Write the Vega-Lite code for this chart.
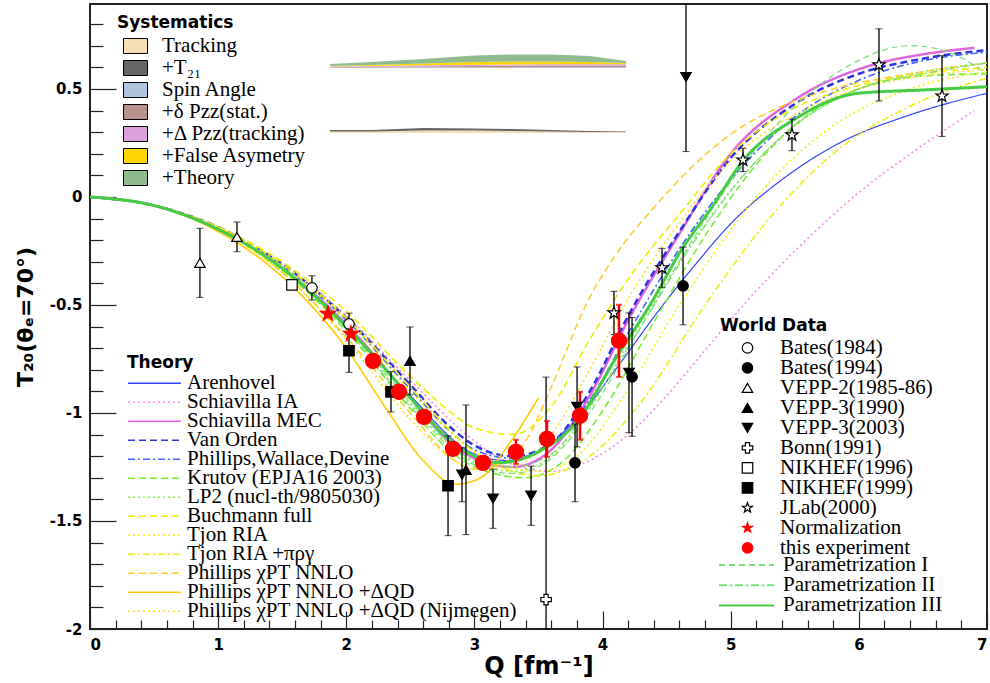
{
"$schema": "https://vega.github.io/schema/vega-lite/v6.json",
"width": 897, "height": 625,
"autosize": {"type": "none"},
"padding": {"left": 90, "top": 4, "right": 3, "bottom": 54},
"background": "white",
"config": {
  "view": {"stroke": "#222222", "strokeWidth": 2},
  "axis": {"grid": false, "domain": false, "tickColor": "#222222", "tickWidth": 1.2, "labelColor": "black", "titleColor": "black", "labelFont": "DejaVu Sans", "labelFontWeight": "bold", "labelFontSize": 15, "titleFont": "DejaVu Sans", "titleFontWeight": "bold", "titleFontSize": 24},
  "legend": {"orient": "none", "labelFont": "Liberation Serif", "labelFontSize": 21, "labelColor": "black", "labelLimit": 0, "titleFont": "DejaVu Sans", "titleFontSize": 17, "titleFontWeight": "bold", "titleColor": "black"}
},
"datasets": {
"sys": [
{"sys":"Spin Angle","Q":1.873,"lo":0.597,"hi":0.5993},{"sys":"Spin Angle","Q":2.2,"lo":0.597,"hi":0.5993},{"sys":"Spin Angle","Q":2.6,"lo":0.597,"hi":0.5998},{"sys":"Spin Angle","Q":3.0,"lo":0.597,"hi":0.6002},{"sys":"Spin Angle","Q":3.3,"lo":0.597,"hi":0.6002},{"sys":"Spin Angle","Q":3.6,"lo":0.597,"hi":0.6002},{"sys":"Spin Angle","Q":3.9,"lo":0.597,"hi":0.6002},{"sys":"Spin Angle","Q":4.183,"lo":0.597,"hi":0.6002},
{"sys":"+δ Pzz(stat.)","Q":1.873,"lo":0.5993,"hi":0.6016},{"sys":"+δ Pzz(stat.)","Q":2.2,"lo":0.5993,"hi":0.6026},{"sys":"+δ Pzz(stat.)","Q":2.6,"lo":0.5998,"hi":0.6039},{"sys":"+δ Pzz(stat.)","Q":3.0,"lo":0.6002,"hi":0.6063},{"sys":"+δ Pzz(stat.)","Q":3.3,"lo":0.6002,"hi":0.6072},{"sys":"+δ Pzz(stat.)","Q":3.6,"lo":0.6002,"hi":0.6076},{"sys":"+δ Pzz(stat.)","Q":3.9,"lo":0.6002,"hi":0.6076},{"sys":"+δ Pzz(stat.)","Q":4.183,"lo":0.6002,"hi":0.6076},
{"sys":"+Δ Pzz(tracking)","Q":1.873,"lo":0.6016,"hi":0.6039},{"sys":"+Δ Pzz(tracking)","Q":2.2,"lo":0.6026,"hi":0.6063},{"sys":"+Δ Pzz(tracking)","Q":2.6,"lo":0.6039,"hi":0.609},{"sys":"+Δ Pzz(tracking)","Q":3.0,"lo":0.6063,"hi":0.6118},{"sys":"+Δ Pzz(tracking)","Q":3.3,"lo":0.6072,"hi":0.6132},{"sys":"+Δ Pzz(tracking)","Q":3.6,"lo":0.6076,"hi":0.6137},{"sys":"+Δ Pzz(tracking)","Q":3.9,"lo":0.6076,"hi":0.6137},{"sys":"+Δ Pzz(tracking)","Q":4.183,"lo":0.6076,"hi":0.6137},
{"sys":"+False Asymetry","Q":1.873,"lo":0.6039,"hi":0.6063},{"sys":"+False Asymetry","Q":2.2,"lo":0.6063,"hi":0.6109},{"sys":"+False Asymetry","Q":2.6,"lo":0.609,"hi":0.6178},{"sys":"+False Asymetry","Q":3.0,"lo":0.6118,"hi":0.6248},{"sys":"+False Asymetry","Q":3.3,"lo":0.6132,"hi":0.6271},{"sys":"+False Asymetry","Q":3.6,"lo":0.6137,"hi":0.6271},{"sys":"+False Asymetry","Q":3.9,"lo":0.6137,"hi":0.6248},{"sys":"+False Asymetry","Q":4.183,"lo":0.6137,"hi":0.6201},
{"sys":"+Theory","Q":1.873,"lo":0.6063,"hi":0.6155},{"sys":"+Theory","Q":2.2,"lo":0.6109,"hi":0.6248},{"sys":"+Theory","Q":2.6,"lo":0.6178,"hi":0.6387},{"sys":"+Theory","Q":3.0,"lo":0.6248,"hi":0.6549},{"sys":"+Theory","Q":3.3,"lo":0.6271,"hi":0.6595},{"sys":"+Theory","Q":3.6,"lo":0.6271,"hi":0.6595},{"sys":"+Theory","Q":3.9,"lo":0.6248,"hi":0.6526},{"sys":"+Theory","Q":4.183,"lo":0.6201,"hi":0.6294},
{"sys":"Tracking","Q":1.873,"lo":0.296,"hi":0.3029},{"sys":"Tracking","Q":2.2,"lo":0.296,"hi":0.3029},{"sys":"Tracking","Q":2.6,"lo":0.296,"hi":0.3076},{"sys":"Tracking","Q":3.0,"lo":0.296,"hi":0.3076},{"sys":"Tracking","Q":3.3,"lo":0.296,"hi":0.3053},{"sys":"Tracking","Q":3.6,"lo":0.296,"hi":0.3029},{"sys":"Tracking","Q":3.9,"lo":0.296,"hi":0.3006},{"sys":"Tracking","Q":4.183,"lo":0.296,"hi":0.3006},
{"sys":"+T₂₁","Q":1.873,"lo":0.3029,"hi":0.3099},{"sys":"+T₂₁","Q":2.2,"lo":0.3029,"hi":0.3099},{"sys":"+T₂₁","Q":2.6,"lo":0.3076,"hi":0.3191},{"sys":"+T₂₁","Q":3.0,"lo":0.3076,"hi":0.3168},{"sys":"+T₂₁","Q":3.3,"lo":0.3053,"hi":0.3145},{"sys":"+T₂₁","Q":3.6,"lo":0.3029,"hi":0.3099},{"sys":"+T₂₁","Q":3.9,"lo":0.3006,"hi":0.3053},{"sys":"+T₂₁","Q":4.183,"lo":0.3006,"hi":0.3029}
],
"theory": [
{"model":"Arenhovel","Q":0,"T":0},{"model":"Arenhovel","Q":0.5,"T":-0.04},{"model":"Arenhovel","Q":1,"T":-0.15},{"model":"Arenhovel","Q":1.5,"T":-0.33},{"model":"Arenhovel","Q":2,"T":-0.59},{"model":"Arenhovel","Q":2.5,"T":-0.92},{"model":"Arenhovel","Q":3,"T":-1.19},{"model":"Arenhovel","Q":3.25,"T":-1.22},{"model":"Arenhovel","Q":3.5,"T":-1.18},{"model":"Arenhovel","Q":3.8,"T":-1.03},{"model":"Arenhovel","Q":4.1,"T":-0.8},{"model":"Arenhovel","Q":4.42,"T":-0.54},{"model":"Arenhovel","Q":4.7,"T":-0.33},{"model":"Arenhovel","Q":5.04,"T":-0.1},{"model":"Arenhovel","Q":5.4,"T":0.08},{"model":"Arenhovel","Q":5.85,"T":0.25},{"model":"Arenhovel","Q":6.4,"T":0.38},{"model":"Arenhovel","Q":7,"T":0.48},
{"model":"Schiavilla IA","Q":0,"T":0},{"model":"Schiavilla IA","Q":0.5,"T":-0.04},{"model":"Schiavilla IA","Q":1,"T":-0.14},{"model":"Schiavilla IA","Q":1.5,"T":-0.31},{"model":"Schiavilla IA","Q":2,"T":-0.55},{"model":"Schiavilla IA","Q":2.5,"T":-0.85},{"model":"Schiavilla IA","Q":3,"T":-1.13},{"model":"Schiavilla IA","Q":3.3,"T":-1.24},{"model":"Schiavilla IA","Q":3.6,"T":-1.27},{"model":"Schiavilla IA","Q":3.9,"T":-1.22},{"model":"Schiavilla IA","Q":4.2,"T":-1.1},{"model":"Schiavilla IA","Q":4.5,"T":-0.92},{"model":"Schiavilla IA","Q":4.8,"T":-0.71},{"model":"Schiavilla IA","Q":5.1,"T":-0.5},{"model":"Schiavilla IA","Q":5.5,"T":-0.25},{"model":"Schiavilla IA","Q":6,"T":0.02},{"model":"Schiavilla IA","Q":6.5,"T":0.24},{"model":"Schiavilla IA","Q":6.9,"T":0.4},
{"model":"Schiavilla MEC","Q":0,"T":0},{"model":"Schiavilla MEC","Q":0.5,"T":-0.04},{"model":"Schiavilla MEC","Q":1,"T":-0.15},{"model":"Schiavilla MEC","Q":1.5,"T":-0.33},{"model":"Schiavilla MEC","Q":2,"T":-0.59},{"model":"Schiavilla MEC","Q":2.5,"T":-0.93},{"model":"Schiavilla MEC","Q":2.8,"T":-1.13},{"model":"Schiavilla MEC","Q":3,"T":-1.21},{"model":"Schiavilla MEC","Q":3.3,"T":-1.25},{"model":"Schiavilla MEC","Q":3.6,"T":-1.17},{"model":"Schiavilla MEC","Q":3.9,"T":-0.92},{"model":"Schiavilla MEC","Q":4.2,"T":-0.57},{"model":"Schiavilla MEC","Q":4.6,"T":-0.17},{"model":"Schiavilla MEC","Q":5,"T":0.2},{"model":"Schiavilla MEC","Q":5.5,"T":0.45},{"model":"Schiavilla MEC","Q":6.1,"T":0.61},{"model":"Schiavilla MEC","Q":6.5,"T":0.66},{"model":"Schiavilla MEC","Q":6.9,"T":0.69},
{"model":"Van Orden","Q":0,"T":0},{"model":"Van Orden","Q":0.5,"T":-0.04},{"model":"Van Orden","Q":1,"T":-0.14},{"model":"Van Orden","Q":1.5,"T":-0.31},{"model":"Van Orden","Q":2,"T":-0.56},{"model":"Van Orden","Q":2.5,"T":-0.87},{"model":"Van Orden","Q":2.8,"T":-1.06},{"model":"Van Orden","Q":3,"T":-1.15},{"model":"Van Orden","Q":3.3,"T":-1.2},{"model":"Van Orden","Q":3.6,"T":-1.14},{"model":"Van Orden","Q":3.9,"T":-0.9},{"model":"Van Orden","Q":4.2,"T":-0.55},{"model":"Van Orden","Q":4.6,"T":-0.16},{"model":"Van Orden","Q":5,"T":0.18},{"model":"Van Orden","Q":5.5,"T":0.43},{"model":"Van Orden","Q":6,"T":0.57},{"model":"Van Orden","Q":6.5,"T":0.64},{"model":"Van Orden","Q":7,"T":0.68},
{"model":"Phillips,Wallace,Devine","Q":0,"T":0},{"model":"Phillips,Wallace,Devine","Q":0.5,"T":-0.04},{"model":"Phillips,Wallace,Devine","Q":1,"T":-0.14},{"model":"Phillips,Wallace,Devine","Q":1.5,"T":-0.32},{"model":"Phillips,Wallace,Devine","Q":2,"T":-0.57},{"model":"Phillips,Wallace,Devine","Q":2.5,"T":-0.89},{"model":"Phillips,Wallace,Devine","Q":2.8,"T":-1.08},{"model":"Phillips,Wallace,Devine","Q":3,"T":-1.17},{"model":"Phillips,Wallace,Devine","Q":3.3,"T":-1.21},{"model":"Phillips,Wallace,Devine","Q":3.6,"T":-1.14},{"model":"Phillips,Wallace,Devine","Q":3.9,"T":-0.94},{"model":"Phillips,Wallace,Devine","Q":4.2,"T":-0.63},{"model":"Phillips,Wallace,Devine","Q":4.6,"T":-0.24},{"model":"Phillips,Wallace,Devine","Q":5,"T":0.08},{"model":"Phillips,Wallace,Devine","Q":5.5,"T":0.37},{"model":"Phillips,Wallace,Devine","Q":6,"T":0.54},{"model":"Phillips,Wallace,Devine","Q":6.5,"T":0.63},{"model":"Phillips,Wallace,Devine","Q":7,"T":0.67},
{"model":"Krutov (EPJA16 2003)","Q":0,"T":0},{"model":"Krutov (EPJA16 2003)","Q":0.5,"T":-0.04},{"model":"Krutov (EPJA16 2003)","Q":1,"T":-0.15},{"model":"Krutov (EPJA16 2003)","Q":1.5,"T":-0.34},{"model":"Krutov (EPJA16 2003)","Q":2,"T":-0.62},{"model":"Krutov (EPJA16 2003)","Q":2.5,"T":-0.98},{"model":"Krutov (EPJA16 2003)","Q":2.8,"T":-1.17},{"model":"Krutov (EPJA16 2003)","Q":3,"T":-1.25},{"model":"Krutov (EPJA16 2003)","Q":3.4,"T":-1.3},{"model":"Krutov (EPJA16 2003)","Q":3.7,"T":-1.22},{"model":"Krutov (EPJA16 2003)","Q":4,"T":-0.99},{"model":"Krutov (EPJA16 2003)","Q":4.4,"T":-0.58},{"model":"Krutov (EPJA16 2003)","Q":4.8,"T":-0.18},{"model":"Krutov (EPJA16 2003)","Q":5.2,"T":0.15},{"model":"Krutov (EPJA16 2003)","Q":5.6,"T":0.38},{"model":"Krutov (EPJA16 2003)","Q":6,"T":0.5},{"model":"Krutov (EPJA16 2003)","Q":6.5,"T":0.56},{"model":"Krutov (EPJA16 2003)","Q":7,"T":0.57},
{"model":"LP2 (nucl-th/9805030)","Q":0,"T":0},{"model":"LP2 (nucl-th/9805030)","Q":0.5,"T":-0.04},{"model":"LP2 (nucl-th/9805030)","Q":1,"T":-0.15},{"model":"LP2 (nucl-th/9805030)","Q":1.5,"T":-0.34},{"model":"LP2 (nucl-th/9805030)","Q":2,"T":-0.61},{"model":"LP2 (nucl-th/9805030)","Q":2.5,"T":-0.96},{"model":"LP2 (nucl-th/9805030)","Q":3,"T":-1.23},{"model":"LP2 (nucl-th/9805030)","Q":3.3,"T":-1.27},{"model":"LP2 (nucl-th/9805030)","Q":3.6,"T":-1.2},{"model":"LP2 (nucl-th/9805030)","Q":3.9,"T":-0.98},{"model":"LP2 (nucl-th/9805030)","Q":4.2,"T":-0.68},{"model":"LP2 (nucl-th/9805030)","Q":4.6,"T":-0.3},{"model":"LP2 (nucl-th/9805030)","Q":5,"T":0.03},{"model":"LP2 (nucl-th/9805030)","Q":5.5,"T":0.33},{"model":"LP2 (nucl-th/9805030)","Q":6,"T":0.5},{"model":"LP2 (nucl-th/9805030)","Q":6.5,"T":0.58},{"model":"LP2 (nucl-th/9805030)","Q":7,"T":0.62},
{"model":"Buchmann full","Q":0,"T":0},{"model":"Buchmann full","Q":0.5,"T":-0.04},{"model":"Buchmann full","Q":1,"T":-0.14},{"model":"Buchmann full","Q":1.5,"T":-0.3},{"model":"Buchmann full","Q":2,"T":-0.53},{"model":"Buchmann full","Q":2.5,"T":-0.83},{"model":"Buchmann full","Q":2.8,"T":-0.99},{"model":"Buchmann full","Q":3,"T":-1.07},{"model":"Buchmann full","Q":3.3,"T":-1.1},{"model":"Buchmann full","Q":3.6,"T":-0.97},{"model":"Buchmann full","Q":3.9,"T":-0.66},{"model":"Buchmann full","Q":4.2,"T":-0.38},{"model":"Buchmann full","Q":4.6,"T":-0.08},{"model":"Buchmann full","Q":5,"T":0.2},{"model":"Buchmann full","Q":5.4,"T":0.38},{"model":"Buchmann full","Q":5.9,"T":0.5},{"model":"Buchmann full","Q":6.5,"T":0.57},{"model":"Buchmann full","Q":7,"T":0.6},
{"model":"Tjon RIA","Q":0,"T":0},{"model":"Tjon RIA","Q":0.5,"T":-0.04},{"model":"Tjon RIA","Q":1,"T":-0.14},{"model":"Tjon RIA","Q":1.5,"T":-0.32},{"model":"Tjon RIA","Q":2,"T":-0.57},{"model":"Tjon RIA","Q":2.5,"T":-0.9},{"model":"Tjon RIA","Q":3,"T":-1.18},{"model":"Tjon RIA","Q":3.5,"T":-1.27},{"model":"Tjon RIA","Q":3.8,"T":-1.2},{"model":"Tjon RIA","Q":4.1,"T":-0.98},{"model":"Tjon RIA","Q":4.6,"T":-0.5},{"model":"Tjon RIA","Q":5.2,"T":0},{"model":"Tjon RIA","Q":5.8,"T":0.33},{"model":"Tjon RIA","Q":6.4,"T":0.5},{"model":"Tjon RIA","Q":7,"T":0.58},
{"model":"Tjon RIA +πργ","Q":0,"T":0},{"model":"Tjon RIA +πργ","Q":0.5,"T":-0.04},{"model":"Tjon RIA +πργ","Q":1,"T":-0.14},{"model":"Tjon RIA +πργ","Q":1.5,"T":-0.31},{"model":"Tjon RIA +πργ","Q":2,"T":-0.56},{"model":"Tjon RIA +πργ","Q":2.5,"T":-0.88},{"model":"Tjon RIA +πργ","Q":3,"T":-1.18},{"model":"Tjon RIA +πργ","Q":3.5,"T":-1.29},{"model":"Tjon RIA +πργ","Q":3.9,"T":-1.2},{"model":"Tjon RIA +πργ","Q":4.3,"T":-0.95},{"model":"Tjon RIA +πργ","Q":4.8,"T":-0.5},{"model":"Tjon RIA +πργ","Q":5.3,"T":-0.1},{"model":"Tjon RIA +πργ","Q":5.8,"T":0.2},{"model":"Tjon RIA +πργ","Q":6.4,"T":0.42},{"model":"Tjon RIA +πργ","Q":7,"T":0.55},
{"model":"Phillips χPT NNLO","Q":0,"T":0},{"model":"Phillips χPT NNLO","Q":0.5,"T":-0.04},{"model":"Phillips χPT NNLO","Q":1,"T":-0.15},{"model":"Phillips χPT NNLO","Q":1.5,"T":-0.35},{"model":"Phillips χPT NNLO","Q":2,"T":-0.65},{"model":"Phillips χPT NNLO","Q":2.5,"T":-1.0},{"model":"Phillips χPT NNLO","Q":2.8,"T":-1.2},{"model":"Phillips χPT NNLO","Q":3,"T":-1.26},{"model":"Phillips χPT NNLO","Q":3.2,"T":-1.24},{"model":"Phillips χPT NNLO","Q":3.41,"T":-1.12},{"model":"Phillips χPT NNLO","Q":3.6,"T":-0.88},{"model":"Phillips χPT NNLO","Q":3.87,"T":-0.5},{"model":"Phillips χPT NNLO","Q":4.1,"T":-0.27},{"model":"Phillips χPT NNLO","Q":4.4,"T":-0.05},{"model":"Phillips χPT NNLO","Q":4.7,"T":0.14},{"model":"Phillips χPT NNLO","Q":5,"T":0.29},{"model":"Phillips χPT NNLO","Q":5.4,"T":0.42},{"model":"Phillips χPT NNLO","Q":5.8,"T":0.5},{"model":"Phillips χPT NNLO","Q":6.4,"T":0.57},{"model":"Phillips χPT NNLO","Q":7,"T":0.62},
{"model":"Phillips χPT NNLO +ΔQD","Q":0,"T":0},{"model":"Phillips χPT NNLO +ΔQD","Q":0.5,"T":-0.04},{"model":"Phillips χPT NNLO +ΔQD","Q":1,"T":-0.16},{"model":"Phillips χPT NNLO +ΔQD","Q":1.5,"T":-0.37},{"model":"Phillips χPT NNLO +ΔQD","Q":2,"T":-0.7},{"model":"Phillips χPT NNLO +ΔQD","Q":2.3,"T":-0.97},{"model":"Phillips χPT NNLO +ΔQD","Q":2.6,"T":-1.22},{"model":"Phillips χPT NNLO +ΔQD","Q":2.85,"T":-1.33},{"model":"Phillips χPT NNLO +ΔQD","Q":3.05,"T":-1.3},{"model":"Phillips χPT NNLO +ΔQD","Q":3.25,"T":-1.16},{"model":"Phillips χPT NNLO +ΔQD","Q":3.5,"T":-0.93},
{"model":"Phillips χPT NNLO +ΔQD (Nijmegen)","Q":0,"T":0},{"model":"Phillips χPT NNLO +ΔQD (Nijmegen)","Q":0.5,"T":-0.04},{"model":"Phillips χPT NNLO +ΔQD (Nijmegen)","Q":1,"T":-0.15},{"model":"Phillips χPT NNLO +ΔQD (Nijmegen)","Q":1.5,"T":-0.35},{"model":"Phillips χPT NNLO +ΔQD (Nijmegen)","Q":2,"T":-0.66},{"model":"Phillips χPT NNLO +ΔQD (Nijmegen)","Q":2.5,"T":-1.03},{"model":"Phillips χPT NNLO +ΔQD (Nijmegen)","Q":2.8,"T":-1.2},{"model":"Phillips χPT NNLO +ΔQD (Nijmegen)","Q":3,"T":-1.26},{"model":"Phillips χPT NNLO +ΔQD (Nijmegen)","Q":3.3,"T":-1.25},{"model":"Phillips χPT NNLO +ΔQD (Nijmegen)","Q":3.6,"T":-1.1},{"model":"Phillips χPT NNLO +ΔQD (Nijmegen)","Q":3.9,"T":-0.8},{"model":"Phillips χPT NNLO +ΔQD (Nijmegen)","Q":4.2,"T":-0.47},{"model":"Phillips χPT NNLO +ΔQD (Nijmegen)","Q":4.6,"T":-0.12},{"model":"Phillips χPT NNLO +ΔQD (Nijmegen)","Q":5,"T":0.17},{"model":"Phillips χPT NNLO +ΔQD (Nijmegen)","Q":5.5,"T":0.38},{"model":"Phillips χPT NNLO +ΔQD (Nijmegen)","Q":6,"T":0.5},{"model":"Phillips χPT NNLO +ΔQD (Nijmegen)","Q":6.5,"T":0.56},{"model":"Phillips χPT NNLO +ΔQD (Nijmegen)","Q":7,"T":0.59}
],
"param": [
{"param":"Parametrization I","Q":0,"T":0},{"param":"Parametrization I","Q":0.5,"T":-0.04},{"param":"Parametrization I","Q":1,"T":-0.15},{"param":"Parametrization I","Q":1.5,"T":-0.33},{"param":"Parametrization I","Q":2,"T":-0.61},{"param":"Parametrization I","Q":2.5,"T":-0.97},{"param":"Parametrization I","Q":3,"T":-1.24},{"param":"Parametrization I","Q":3.3,"T":-1.28},{"param":"Parametrization I","Q":3.6,"T":-1.21},{"param":"Parametrization I","Q":3.9,"T":-1.0},{"param":"Parametrization I","Q":4.3,"T":-0.6},{"param":"Parametrization I","Q":4.7,"T":-0.2},{"param":"Parametrization I","Q":5.1,"T":0.15},{"param":"Parametrization I","Q":5.5,"T":0.42},{"param":"Parametrization I","Q":5.9,"T":0.6},{"param":"Parametrization I","Q":6.4,"T":0.7},{"param":"Parametrization I","Q":6.7,"T":0.67},{"param":"Parametrization I","Q":7,"T":0.57},
{"param":"Parametrization II","Q":0,"T":0},{"param":"Parametrization II","Q":0.5,"T":-0.04},{"param":"Parametrization II","Q":1,"T":-0.15},{"param":"Parametrization II","Q":1.5,"T":-0.33},{"param":"Parametrization II","Q":2,"T":-0.6},{"param":"Parametrization II","Q":2.5,"T":-0.95},{"param":"Parametrization II","Q":3,"T":-1.22},{"param":"Parametrization II","Q":3.3,"T":-1.25},{"param":"Parametrization II","Q":3.6,"T":-1.19},{"param":"Parametrization II","Q":3.9,"T":-0.97},{"param":"Parametrization II","Q":4.3,"T":-0.6},{"param":"Parametrization II","Q":4.7,"T":-0.22},{"param":"Parametrization II","Q":5.1,"T":0.1},{"param":"Parametrization II","Q":5.5,"T":0.33},{"param":"Parametrization II","Q":6,"T":0.5},{"param":"Parametrization II","Q":6.5,"T":0.57},{"param":"Parametrization II","Q":7,"T":0.62},
{"param":"Parametrization III","Q":0,"T":0},{"param":"Parametrization III","Q":0.5,"T":-0.04},{"param":"Parametrization III","Q":1,"T":-0.15},{"param":"Parametrization III","Q":1.5,"T":-0.33},{"param":"Parametrization III","Q":2,"T":-0.6},{"param":"Parametrization III","Q":2.25,"T":-0.76},{"param":"Parametrization III","Q":2.5,"T":-0.93},{"param":"Parametrization III","Q":2.8,"T":-1.12},{"param":"Parametrization III","Q":3,"T":-1.2},{"param":"Parametrization III","Q":3.2,"T":-1.23},{"param":"Parametrization III","Q":3.5,"T":-1.18},{"param":"Parametrization III","Q":3.8,"T":-1.04},{"param":"Parametrization III","Q":4.1,"T":-0.75},{"param":"Parametrization III","Q":4.4,"T":-0.47},{"param":"Parametrization III","Q":4.6,"T":-0.26},{"param":"Parametrization III","Q":4.85,"T":-0.05},{"param":"Parametrization III","Q":5.1,"T":0.17},{"param":"Parametrization III","Q":5.5,"T":0.36},{"param":"Parametrization III","Q":6,"T":0.48},{"param":"Parametrization III","Q":6.5,"T":0.495},{"param":"Parametrization III","Q":7,"T":0.51}
],
"pts": [
{"set":"Bates(1984)","Q":1.732,"T":-0.421,"err":0.056},{"set":"Bates(1984)","Q":2.021,"T":-0.588,"err":0.05},
{"set":"Bates(1994)","Q":3.785,"T":-1.231,"err":0.18},{"set":"Bates(1994)","Q":4.23,"T":-0.833,"err":0.275},{"set":"Bates(1994)","Q":4.628,"T":-0.412,"err":0.18},
{"set":"VEPP-2(1985-86)","Q":0.858,"T":-0.305,"err":0.16},{"set":"VEPP-2(1985-86)","Q":1.147,"T":-0.185,"err":0.069},
{"set":"VEPP-3(1990)","Q":2.497,"T":-0.759,"err":0.157},{"set":"VEPP-3(1990)","Q":2.934,"T":-1.263,"err":0.3},
{"set":"VEPP-3(2003)","Q":4.651,"T":0.555,"err":0.345},{"set":"VEPP-3(2003)","Q":2.903,"T":-1.286,"err":0.125},{"set":"VEPP-3(2003)","Q":3.145,"T":-1.397,"err":0.137},{"set":"VEPP-3(2003)","Q":3.442,"T":-1.383,"err":0.137},{"set":"VEPP-3(2003)","Q":3.801,"T":-0.972,"err":0.185},{"set":"VEPP-3(2003)","Q":4.206,"T":-0.814,"err":0.277},
{"set":"Bonn(1991)","Q":3.559,"T":-1.864,"err":1.03},
{"set":"NIKHEF(1996)","Q":1.576,"T":-0.407,"err":0.02},
{"set":"NIKHEF(1999)","Q":2.021,"T":-0.712,"err":0.1},{"set":"NIKHEF(1999)","Q":2.349,"T":-0.902,"err":0.093},{"set":"NIKHEF(1999)","Q":2.794,"T":-1.337,"err":0.231},
{"set":"JLab(2000)","Q":4.089,"T":-0.537,"err":0.1},{"set":"JLab(2000)","Q":4.464,"T":-0.328,"err":0.09},{"set":"JLab(2000)","Q":5.096,"T":0.171,"err":0.054},{"set":"JLab(2000)","Q":5.478,"T":0.287,"err":0.073},{"set":"JLab(2000)","Q":6.157,"T":0.611,"err":0.167},{"set":"JLab(2000)","Q":6.649,"T":0.467,"err":0.187},
{"set":"Normalization","Q":1.857,"T":-0.541,"err":0},{"set":"Normalization","Q":2.037,"T":-0.634,"err":0},
{"set":"this experiment","Q":2.209,"T":-0.759,"err":0.02},{"set":"this experiment","Q":2.411,"T":-0.902,"err":0.02},{"set":"this experiment","Q":2.607,"T":-1.018,"err":0.02},{"set":"this experiment","Q":2.833,"T":-1.166,"err":0.025},{"set":"this experiment","Q":3.067,"T":-1.231,"err":0.03},{"set":"this experiment","Q":3.324,"T":-1.18,"err":0.056},{"set":"this experiment","Q":3.566,"T":-1.12,"err":0.083},{"set":"this experiment","Q":3.824,"T":-1.013,"err":0.111},{"set":"this experiment","Q":4.128,"T":-0.666,"err":0.167}
]
},
"layer": [
{
 "data": {"name": "sys"},
 "mark": {"type": "area", "opacity": 1},
 "encoding": {
  "x": {"field": "Q", "type": "quantitative", "scale": {"domain": [0, 7], "nice": false, "zero": false},
        "axis": {"orient": "bottom", "values": [0.2,0.4,0.6,0.8,1.2,1.4,1.6,1.8,2.2,2.4,2.6,2.8,3.2,3.4,3.6,3.8,4.2,4.4,4.6,4.8,5.2,5.4,5.6,5.8,6.2,6.4,6.6,6.8], "tickSize": -9, "labels": false, "title": null}},
  "y": {"field": "hi", "type": "quantitative", "scale": {"domain": [-2, 0.893], "nice": false, "zero": false, "clamp": true},
        "axis": {"orient": "left", "values": [-1.9,-1.8,-1.7,-1.6,-1.4,-1.3,-1.2,-1.1,-0.9,-0.8,-0.7,-0.6,-0.4,-0.3,-0.2,-0.1,0.1,0.2,0.3,0.4,0.6,0.7,0.8], "tickSize": -13, "labels": false, "title": null}},
  "y2": {"field": "lo"},
  "color": {"field": "sys", "type": "nominal",
   "scale": {"domain": ["Tracking","+T₂₁","Spin Angle","+δ Pzz(stat.)","+Δ Pzz(tracking)","+False Asymetry","+Theory"],
             "range": ["#f5deb3","#666666","#b0c4de","#bc8f8f","#dda0dd","#ffd700","#8fbc8f"]},
   "legend": {"title": "Systematics", "orient": "none", "legendX": 27, "legendY": 11, "symbolType": "M-1.2,-0.75H1.2V0.75H-1.2Z", "symbolSize": 400, "symbolStrokeColor": "black", "symbolStrokeWidth": 1, "clipHeight": 22, "rowPadding": -1.5, "symbolOffset": 8, "labelOffset": 16, "titlePadding": 3}}
 }
},
{
 "data": {"name": "theory"},
 "mark": {"type": "line", "interpolate": "monotone", "clip": true},
 "encoding": {
  "x": {"field": "Q", "type": "quantitative", "scale": {"domain": [0, 7], "nice": false, "zero": false},
        "axis": {"orient": "bottom", "values": [0,1,2,3,4,5,6,7], "tickSize": -18, "labels": false, "title": null}},
  "y": {"field": "T", "type": "quantitative", "scale": {"domain": [-2, 0.893], "nice": false, "zero": false, "clamp": true},
        "axis": {"orient": "left", "values": [-2,-1.5,-1,-0.5,0,0.5], "tickSize": -26, "labels": false, "title": null}},
  "color": {"field": "model", "type": "nominal",
   "scale": {"domain": ["Arenhovel","Schiavilla IA","Schiavilla MEC","Van Orden","Phillips,Wallace,Devine","Krutov (EPJA16 2003)","LP2 (nucl-th/9805030)","Buchmann full","Tjon RIA","Tjon RIA +πργ","Phillips χPT NNLO","Phillips χPT NNLO +ΔQD","Phillips χPT NNLO +ΔQD (Nijmegen)"],
             "range": ["#3344ff","#ff88ee","#e066e0","#3333dd","#4466ff","#77ee33","#88ee44","#eeee00","#f4f400","#eeee11","#ffcc33","#ffcc00","#ffdd22"]},
   "legend": {"title": "Theory", "orient": "none", "legendX": 37, "legendY": 351, "symbolType": "stroke", "symbolSize": 2809, "symbolStrokeWidth": 1.6, "clipHeight": 16.5, "rowPadding": -6, "labelOffset": 5, "titlePadding": 3}},
  "strokeDash": {"field": "model", "type": "nominal",
   "scale": {"domain": ["Arenhovel","Schiavilla IA","Schiavilla MEC","Van Orden","Phillips,Wallace,Devine","Krutov (EPJA16 2003)","LP2 (nucl-th/9805030)","Buchmann full","Tjon RIA","Tjon RIA +πργ","Phillips χPT NNLO","Phillips χPT NNLO +ΔQD","Phillips χPT NNLO +ΔQD (Nijmegen)"],
             "range": [[1,0],[2,3],[1,0],[7,4],[7,3,2,3],[7,4],[2,3],[7,4],[2,3],[7,3,2,3],[7,4],[1,0],[2,3]]},
   "legend": {"title": "Theory", "orient": "none", "legendX": 37, "legendY": 351, "symbolType": "stroke", "symbolSize": 2809, "symbolStrokeWidth": 1.6, "clipHeight": 16.5, "rowPadding": -6, "labelOffset": 5, "titlePadding": 3}},
  "strokeWidth": {"condition": [{"test": "datum.model === 'Schiavilla MEC' || datum.model === 'Van Orden'", "value": 2.5}, {"test": "datum.model === 'Arenhovel'", "value": 1.2}], "value": 1.6}
 }
},
{
 "data": {"name": "param"},
 "mark": {"type": "line", "interpolate": "monotone", "clip": true},
 "encoding": {
  "x": {"field": "Q", "type": "quantitative", "scale": {"domain": [0, 7], "nice": false, "zero": false},
        "axis": {"orient": "bottom", "values": [0,1,2,3,4,5,6,7], "ticks": false, "labelPadding": 8, "title": "Q [fm⁻¹]", "titleBaseline": "middle", "titleY": 37}},
  "y": {"field": "T", "type": "quantitative", "scale": {"domain": [-2, 0.893], "nice": false, "zero": false, "clamp": true},
        "axis": {"orient": "left", "values": [-2,-1.5,-1,-0.5,0,0.5], "ticks": false, "labelPadding": 8, "labelExpr": "'' + datum.value", "title": "T₂₀(θₑ=70°)", "titleFontSize": 22, "titlePadding": 12}},
  "color": {"field": "param", "type": "nominal",
   "scale": {"domain": ["Parametrization I","Parametrization II","Parametrization III"], "range": ["#77dd77","#77dd77","#44cc44"]},
   "legend": {"title": null, "orient": "none", "legendX": 628, "legendY": 551, "symbolType": "stroke", "symbolSize": 3025, "symbolStrokeWidth": 2, "clipHeight": 20, "rowPadding": -0.8, "labelOffset": 8}},
  "strokeDash": {"field": "param", "type": "nominal",
   "scale": {"domain": ["Parametrization I","Parametrization II","Parametrization III"], "range": [[6,4],[8,3,2,3],[1,0]]},
   "legend": {"title": null, "orient": "none", "legendX": 628, "legendY": 551, "symbolType": "stroke", "symbolSize": 3025, "symbolStrokeWidth": 2, "clipHeight": 20, "rowPadding": -0.8, "labelOffset": 8}},
  "strokeWidth": {"condition": {"test": "datum.param === 'Parametrization III'", "value": 3}, "value": 1.2}
 }
},
{
 "data": {"name": "pts"},
 "transform": [{"filter": "datum.set !== 'this experiment' && datum.set !== 'Normalization'"}],
 "mark": {"type": "errorbar", "ticks": {"size": 7, "color": "black", "thickness": 1}, "color": "black", "thickness": 1.3},
 "encoding": {
  "x": {"field": "Q", "type": "quantitative", "scale": {"domain": [0, 7], "nice": false, "zero": false}, "axis": null},
  "y": {"field": "T", "type": "quantitative", "scale": {"domain": [-2, 0.893], "nice": false, "zero": false, "clamp": true}, "axis": null},
  "yError": {"field": "err"}
 }
},
{
 "data": {"name": "pts"},
 "transform": [{"filter": "datum.set === 'this experiment'"}],
 "mark": {"type": "errorbar", "ticks": {"size": 6, "color": "#ff0000", "thickness": 2}, "color": "#ff0000", "thickness": 2.5},
 "encoding": {
  "x": {"field": "Q", "type": "quantitative", "scale": {"domain": [0, 7], "nice": false, "zero": false}, "axis": null},
  "y": {"field": "T", "type": "quantitative", "scale": {"domain": [-2, 0.893], "nice": false, "zero": false, "clamp": true}, "axis": null},
  "yError": {"field": "err"}
 }
},
{
 "data": {"name": "pts"},
 "mark": {"type": "point", "filled": true, "strokeWidth": 1.2, "opacity": 1},
 "encoding": {
  "x": {"field": "Q", "type": "quantitative", "scale": {"domain": [0, 7], "nice": false, "zero": false}, "axis": null},
  "y": {"field": "T", "type": "quantitative", "scale": {"domain": [-2, 0.893], "nice": false, "zero": false, "clamp": true}, "axis": null},
  "shape": {"field": "set", "type": "nominal",
   "scale": {"domain": ["Bates(1984)","Bates(1994)","VEPP-2(1985-86)","VEPP-3(1990)","VEPP-3(2003)","Bonn(1991)","NIKHEF(1996)","NIKHEF(1999)","JLab(2000)","Normalization","this experiment"],
             "range": ["circle","circle","triangle-up","triangle-up","triangle-down","cross","square","square","M0,-1L0.235,-0.324L0.951,-0.309L0.38,0.124L0.588,0.809L0,0.4L-0.588,0.809L-0.38,0.124L-0.951,-0.309L-0.235,-0.324Z","M0,-1L0.235,-0.324L0.951,-0.309L0.38,0.124L0.588,0.809L0,0.4L-0.588,0.809L-0.38,0.124L-0.951,-0.309L-0.235,-0.324Z","circle"]},
   "legend": {"title": "World Data", "orient": "none", "legendX": 630, "legendY": 314, "symbolSize": 110, "symbolStrokeWidth": 1.2, "clipHeight": 19.75, "rowPadding": -2.3, "symbolOffset": 17, "labelOffset": 22, "titlePadding": 3}},
  "color": {"field": "set", "type": "nominal",
   "scale": {"domain": ["Bates(1984)","Bates(1994)","VEPP-2(1985-86)","VEPP-3(1990)","VEPP-3(2003)","Bonn(1991)","NIKHEF(1996)","NIKHEF(1999)","JLab(2000)","Normalization","this experiment"],
             "range": ["white","black","white","black","black","white","white","black","white","#ff0000","#ff0000"]},
   "legend": {"title": "World Data", "orient": "none", "legendX": 630, "legendY": 314, "symbolSize": 110, "symbolStrokeWidth": 1.2, "clipHeight": 19.75, "rowPadding": -2.3, "symbolOffset": 17, "labelOffset": 22, "titlePadding": 3}},
  "stroke": {"field": "set", "type": "nominal",
   "scale": {"domain": ["Bates(1984)","Bates(1994)","VEPP-2(1985-86)","VEPP-3(1990)","VEPP-3(2003)","Bonn(1991)","NIKHEF(1996)","NIKHEF(1999)","JLab(2000)","Normalization","this experiment"],
             "range": ["black","black","black","black","black","black","black","black","black","#ff0000","#ff0000"]},
   "legend": {"title": "World Data", "orient": "none", "legendX": 630, "legendY": 314, "symbolSize": 110, "symbolStrokeWidth": 1.2, "clipHeight": 19.75, "rowPadding": -2.3, "symbolOffset": 17, "labelOffset": 22, "titlePadding": 3}},
  "size": {"condition": [{"test": "datum.set === 'this experiment'", "value": 230}, {"test": "datum.set === 'Normalization'", "value": 260}, {"test": "datum.set === 'JLab(2000)'", "value": 170}], "value": 110}
 }
}
],
"resolve": {
  "scale": {"color": "independent", "strokeDash": "independent", "shape": "independent", "stroke": "independent"},
  "axis": {"x": "independent", "y": "independent"}
}
}
